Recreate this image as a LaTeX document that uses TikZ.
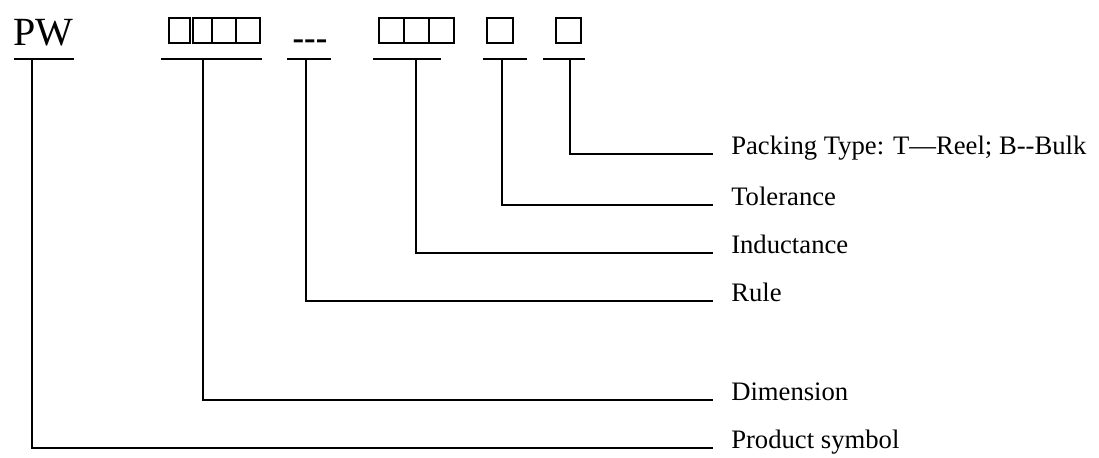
\documentclass[tikz,border=0pt]{standalone}
\usepackage{fontspec}
\setmainfont{Liberation Serif}
\usetikzlibrary{positioning}

\tikzset{
  lbl/.style={anchor=base west, inner sep=0pt, font=\fontsize{20}{22}\selectfont},
  cell/.style={draw, line width=1pt},
  leader/.style={line width=1.1pt}
}

\begin{document}
\begin{tikzpicture}[x=0.75pt, y=-0.75pt]
      \useasboundingbox (0,0) rectangle (1099,457);
      \node[anchor=base west, inner sep=0pt, font=\fontsize{30}{34}\selectfont] (PW) at (13,45) {PW};
      \foreach \a/\b in {169/190,193/212,212/236,236/260,379/404,404/429,429/454,487/513,556/581}
        \draw[cell] (\a,18) rectangle (\b,43);
      \draw[line width=2pt] (404,18) -- (404,43);
      \draw[line width=2pt] (212,18) -- (212,43);
      \node[anchor=base, inner sep=0pt, font=\fontsize{26}{28}\selectfont\bfseries] (dash) at (310,49) {-{}-{}-};
      \coordinate (u1) at (32,59);
      \coordinate (u2) at (203,59);
      \coordinate (u3) at (306,59);
      \coordinate (u4) at (416,59);
      \coordinate (u5) at (502,59);
      \coordinate (u6) at (570,59);
      \draw[leader] (14,59) -- (74,59);
      \draw[leader] (161,59) -- (262,59);
      \draw[leader] (287,59) -- (331,59);
      \draw[leader] (373,59) -- (441,59);
      \draw[leader] (483,59) -- (527,59);
      \draw[leader] (543,59) -- (585,59);
      \node[lbl] (pack) at (731,154) {Packing Type: T—Reel; B-{}-Bulk};
      \node[lbl] (tol) at (731,205) {Tolerance};
      \node[lbl] (ind) at (731,253) {Inductance};
      \node[lbl] (rule) at (731,301) {Rule};
      \node[lbl] (dim) at (731,400) {Dimension};
      \node[lbl] (prod) at (731,448) {Product symbol};
      \foreach \u/\l in {u6/pack,u5/tol,u4/ind,u3/rule,u2/dim,u1/prod}
        \draw[leader] (\u) |- ([xshift=-13.5pt]\l.base west);
    \end{tikzpicture}
\end{document}
